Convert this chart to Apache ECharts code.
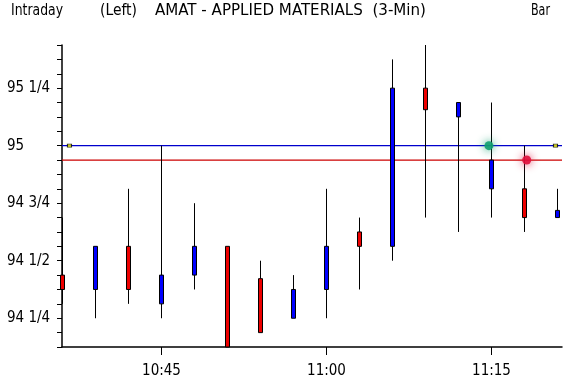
<!DOCTYPE html>
<html><head><meta charset="utf-8">
<script src="https://cdn.jsdelivr.net/npm/echarts@6/dist/echarts.min.js"></script>
<style>html,body{margin:0;padding:0;background:#fff}#c{width:570px;height:382px}</style>
</head><body><div id="c"></div>
<script>
// ---- data ----
const times  = ['10:36','10:39','10:42','10:45','10:48','10:51','10:54','10:57','11:00','11:03','11:06','11:09','11:12','11:15','11:18','11:21'];
const opens  = [94.4375,94.375,94.5625,94.3125,94.4375,94.5625,94.4219,94.25,94.375,94.625,94.5625,95.25,95.125,94.8125,94.8125,94.6875];
const closes = [94.375,94.5625,94.375,94.4375,94.5625,94.125,94.1875,94.375,94.5625,94.5625,95.25,95.15625,95.1875,94.9375,94.6875,94.71875];
const lows   = [94.3125,94.25,94.3125,94.25,94.375,94.125,94.1875,94.25,94.25,94.375,94.5,94.6875,94.625,94.6875,94.625,94.6875];
const highs  = [94.6875,94.5625,94.8125,95,94.75,94.5625,94.5,94.4375,94.8125,94.6875,95.375,95.4375,95.1875,95.1875,95,94.8125];
const xTickLabels = ['10:45','11:00','11:15'];
const yTickValues = [94.25,94.5,94.75,95,95.25];
const yTickLabels = ['94 1/4','94 1/2','94 3/4','95','95 1/4'];
const refLineValues = [95, 94.9375];
const refLineColors = ['#0000cc','#cc0000'];
const signalTimes  = ['11:14:46','11:18:12'];
const signalValues = [95, 94.9375];
const signalColors = ['#10a070','#e0103c'];
const markerTimes  = ['10:36:38','11:20:49'];
const markerValues = [95, 95];
const titleTexts = ['Intraday','(Left)','AMAT - APPLIED MATERIALS  (3-Min)','Bar'];

// ---- helpers ----
function toMin(s){const p=s.split(':').map(Number);return p[0]*60+p[1]+(p[2]||0)/60;}
function fmtMin(v){const h=Math.floor(v/60),m=Math.round(v-h*60);return h+':'+(m<10?'0':'')+m;}
function fontAvailable(f){
  const ctx=document.createElement('canvas').getContext('2d');
  const s='AMAT 94 1/4 Intraday mwil';
  for(const base of ['monospace','serif']){
    ctx.font='40px '+base; const w0=ctx.measureText(s).width;
    ctx.font='40px "'+f+'", '+base;
    if(Math.abs(ctx.measureText(s).width-w0)>0.01) return true;
  }
  return false;
}
let fam, fsize;
if(fontAvailable('Liberation Sans Narrow')){fam='Liberation Sans Narrow';fsize=17;}
else if(fontAvailable('DejaVu Sans Condensed')){fam='DejaVu Sans Condensed';fsize=15;}
else {fam='DejaVu Sans';fsize=14;}
const mctx=document.createElement('canvas').getContext('2d');
mctx.font=fsize+'px "'+fam+'"';

// 11 px per minute over a 500 px plot; half-pixel shift keeps 1px wicks crisp
const xMin=toMin('10:36')-0.5/11, xMax=xMin+500/11;
const yMin=94.125, yMax=95.4375;

// title layout (left x, target width)
const titleBoxes=[[11,52],[100,37],[155,271],[531,19]];
const graphics=titleTexts.map((t,i)=>{
  const w=mctx.measureText(t).width;
  return {type:'text',x:titleBoxes[i][0],y:11,scaleX:titleBoxes[i][1]/w,
    style:{text:t,fontFamily:fam,fontSize:fsize,fill:'#000',align:'left',verticalAlign:'middle'}};
});

const candleData=times.map((t,i)=>[toMin(t),opens[i],closes[i],lows[i],highs[i]]);

const series=[];
refLineValues.forEach((v,i)=>{
  series.push({type:'line',data:[[xMin,v],[xMax,v]],symbol:'none',silent:true,z:1,
    lineStyle:{color:refLineColors[i],width:1.2},animation:false});
});
series.push({type:'candlestick',data:candleData,barWidth:4,z:3,
  dimensions:['t','open','close','lowest','highest'],
  encode:{x:0,y:[1,2,3,4]},
  itemStyle:{color:'#0000ff',color0:'#ee0000',borderColor:'#000',borderColor0:'#000',borderWidth:1}});
series.push({type:'scatter',z:5,symbol:'rect',symbolSize:[4,3],silent:true,
  data:markerTimes.map((t,i)=>[toMin(t),markerValues[i]]),
  itemStyle:{color:'#ffff00',borderColor:'#000',borderWidth:1}});
series.push({type:'scatter',z:6,symbolSize:9,silent:true,
  data:signalTimes.map((t,i)=>({value:[toMin(t),signalValues[i]],
    itemStyle:{color:signalColors[i],shadowBlur:8,shadowColor:signalColors[i],opacity:0.9}}))});

const chart=echarts.init(document.getElementById('c'),null,{renderer:'canvas'});
chart.setOption({
  animation:false,
  backgroundColor:'#fff',
  graphic:graphics,
  grid:{left:62,right:8,top:45,bottom:35},
  xAxis:{type:'value',min:xMin,max:xMax,
    splitLine:{show:false},
    axisLine:{lineStyle:{color:'#000',width:1.5}},
    axisTick:{customValues:xTickLabels.map(toMin),length:8,lineStyle:{color:'#000',width:1}},
    axisLabel:{customValues:xTickLabels.map(toMin),formatter:v=>fmtMin(v),margin:17,
      color:'#000',fontFamily:fam,fontSize:fsize}},
  yAxis:{type:'value',min:yMin,max:yMax,interval:0.0625,
    splitLine:{show:false},
    axisLine:{show:true,lineStyle:{color:'#000',width:1.5}},
    axisTick:{show:true,length:5,lineStyle:{color:'#000',width:1}},
    axisLabel:{align:'left',margin:55,color:'#000',fontFamily:fam,fontSize:fsize,
      formatter:v=>{const k=yTickValues.findIndex(x=>Math.abs(x-v)<1e-6);return k>=0?yTickLabels[k]:'';}}},
  series:series
});
</script></body></html>
